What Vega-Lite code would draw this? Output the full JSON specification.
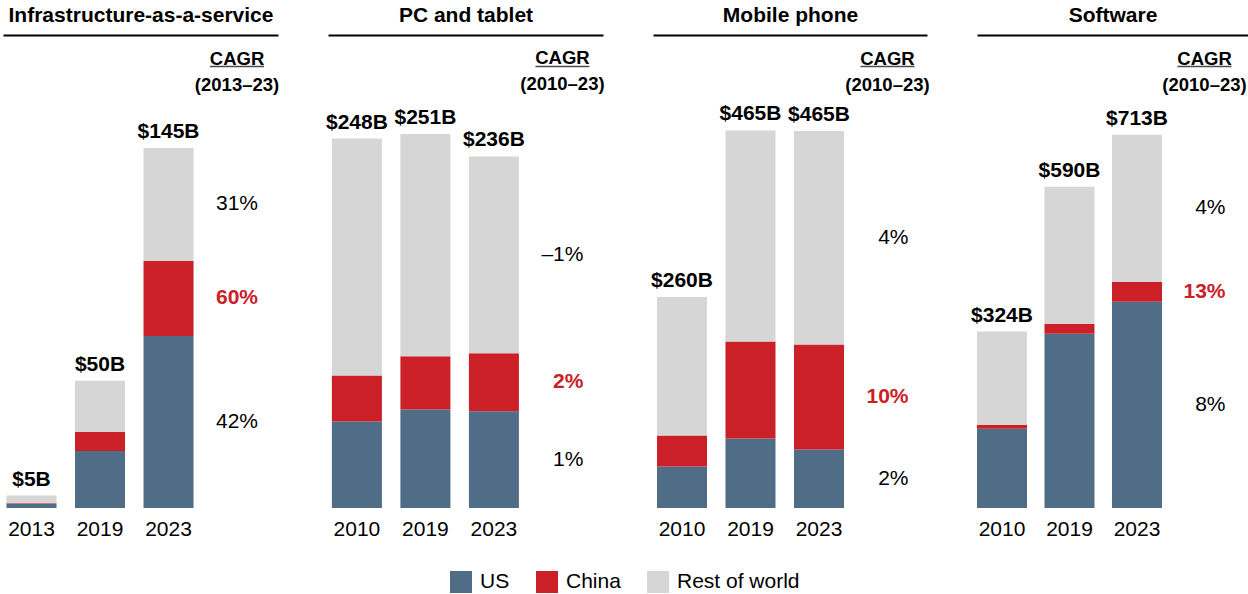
{
  "$schema": "https://vega.github.io/schema/vega-lite/v6.json",
  "padding": {"left": 3, "top": 4, "right": 0, "bottom": 0},
  "bounds": "flush",
  "spacing": 50,
  "datasets": {
    "seg": [
      {"panel": "Infrastructure-as-a-service", "year": "2013", "region": "US", "value": 1.6, "total": 5, "cagr": "42%"},
      {"panel": "Infrastructure-as-a-service", "year": "2013", "region": "China", "value": 0.3, "total": 5, "cagr": "60%"},
      {"panel": "Infrastructure-as-a-service", "year": "2013", "region": "Rest of world", "value": 3.1, "total": 5, "cagr": "31%"},
      {"panel": "Infrastructure-as-a-service", "year": "2019", "region": "US", "value": 23.0, "total": 50, "cagr": "42%"},
      {"panel": "Infrastructure-as-a-service", "year": "2019", "region": "China", "value": 7.6, "total": 50, "cagr": "60%"},
      {"panel": "Infrastructure-as-a-service", "year": "2019", "region": "Rest of world", "value": 20.6, "total": 50, "cagr": "31%"},
      {"panel": "Infrastructure-as-a-service", "year": "2023", "region": "US", "value": 69.3, "total": 145, "cagr": "42%"},
      {"panel": "Infrastructure-as-a-service", "year": "2023", "region": "China", "value": 30.2, "total": 145, "cagr": "60%"},
      {"panel": "Infrastructure-as-a-service", "year": "2023", "region": "Rest of world", "value": 45.5, "total": 145, "cagr": "31%"},
      {"panel": "PC and tablet", "year": "2010", "region": "US", "value": 58.1, "total": 248, "cagr": "1%"},
      {"panel": "PC and tablet", "year": "2010", "region": "China", "value": 30.9, "total": 248, "cagr": "2%"},
      {"panel": "PC and tablet", "year": "2010", "region": "Rest of world", "value": 159.0, "total": 248, "cagr": "–1%"},
      {"panel": "PC and tablet", "year": "2019", "region": "US", "value": 66.2, "total": 251, "cagr": "1%"},
      {"panel": "PC and tablet", "year": "2019", "region": "China", "value": 35.6, "total": 251, "cagr": "2%"},
      {"panel": "PC and tablet", "year": "2019", "region": "Rest of world", "value": 149.2, "total": 251, "cagr": "–1%"},
      {"panel": "PC and tablet", "year": "2023", "region": "US", "value": 64.9, "total": 236, "cagr": "1%"},
      {"panel": "PC and tablet", "year": "2023", "region": "China", "value": 39.0, "total": 236, "cagr": "2%"},
      {"panel": "PC and tablet", "year": "2023", "region": "Rest of world", "value": 132.1, "total": 236, "cagr": "–1%"},
      {"panel": "Mobile phone", "year": "2010", "region": "US", "value": 51.1, "total": 260, "cagr": "2%"},
      {"panel": "Mobile phone", "year": "2010", "region": "China", "value": 38.2, "total": 260, "cagr": "10%"},
      {"panel": "Mobile phone", "year": "2010", "region": "Rest of world", "value": 170.7, "total": 260, "cagr": "4%"},
      {"panel": "Mobile phone", "year": "2019", "region": "US", "value": 85.6, "total": 465, "cagr": "2%"},
      {"panel": "Mobile phone", "year": "2019", "region": "China", "value": 119.5, "total": 465, "cagr": "10%"},
      {"panel": "Mobile phone", "year": "2019", "region": "Rest of world", "value": 259.9, "total": 465, "cagr": "4%"},
      {"panel": "Mobile phone", "year": "2023", "region": "US", "value": 72.1, "total": 465, "cagr": "2%"},
      {"panel": "Mobile phone", "year": "2023", "region": "China", "value": 129.3, "total": 465, "cagr": "10%"},
      {"panel": "Mobile phone", "year": "2023", "region": "Rest of world", "value": 263.0, "total": 465, "cagr": "4%"},
      {"panel": "Software", "year": "2010", "region": "US", "value": 145.6, "total": 324, "cagr": "8%"},
      {"panel": "Software", "year": "2010", "region": "China", "value": 7.3, "total": 324, "cagr": "13%"},
      {"panel": "Software", "year": "2010", "region": "Rest of world", "value": 171.1, "total": 324, "cagr": "4%"},
      {"panel": "Software", "year": "2019", "region": "US", "value": 320.1, "total": 590, "cagr": "8%"},
      {"panel": "Software", "year": "2019", "region": "China", "value": 18.4, "total": 590, "cagr": "13%"},
      {"panel": "Software", "year": "2019", "region": "Rest of world", "value": 251.5, "total": 590, "cagr": "4%"},
      {"panel": "Software", "year": "2023", "region": "US", "value": 378.9, "total": 713, "cagr": "8%"},
      {"panel": "Software", "year": "2023", "region": "China", "value": 36.7, "total": 713, "cagr": "13%"},
      {"panel": "Software", "year": "2023", "region": "Rest of world", "value": 270.0, "total": 713, "cagr": "4%"}
    ]
  },
  "data": {"name": "seg"},
  "hconcat": [
    {
      "width": 275, "height": 473,
      "transform": [
        {"filter": "datum.panel == 'Infrastructure-as-a-service'"},
        {"calculate": "indexof(['US','China','Rest of world'], datum.region)", "as": "ord"}
      ],
      "resolve": {"axis": {"x": "independent"}},
      "layer": [
        {
          "mark": {"type": "bar"},
          "encoding": {
            "x": {"field": "year", "type": "nominal", "scale": {"domain": ["2013", "2019", "2023", "CAGR"], "paddingInner": 0.27, "paddingOuter": 0.142, "align": 0.18}, "axis": {"orient": "bottom", "title": null, "labelAngle": 0, "labelExpr": "datum.value == 'CAGR' ? '' : datum.value", "labelPadding": 10.5, "labelFontSize": 21, "labelColor": "#000", "domain": false, "ticks": false}},
            "y": {"field": "value", "type": "quantitative", "stack": "zero", "scale": {"domain": [0, 190.5]}, "axis": null},
            "color": {"field": "region", "type": "nominal", "title": null, "scale": {"domain": ["US", "China", "Rest of world"], "range": ["#4f6d87", "#cc2029", "#d6d6d6"]}},
            "order": {"field": "ord", "type": "quantitative"}
          }
        },
        {
          "transform": [
            {"aggregate": [{"op": "sum", "field": "value", "as": "sum"}, {"op": "max", "field": "total", "as": "total"}], "groupby": ["year"]},
            {"calculate": "'$' + datum.total + 'B'", "as": "label"}
          ],
          "mark": {"type": "text", "fontSize": 21, "fontWeight": "bold", "baseline": "alphabetic", "dy": -10, "color": "#000"},
          "encoding": {
            "x": {"field": "year", "type": "nominal", "axis": {"orient": "top", "title": "Infrastructure-as-a-service", "labels": false, "ticks": false, "domain": true, "domainColor": "#000", "domainWidth": 2, "titleFontSize": 21, "titleFontWeight": "bold", "titleColor": "#000", "titlePadding": 10}},
            "y": {"field": "sum", "type": "quantitative", "scale": {"domain": [0, 190.5]}, "axis": null},
            "text": {"field": "label"}
          }
        },
        {
          "transform": [
            {"filter": "datum.year == '2023'"},
            {"stack": "value", "groupby": ["year"], "sort": [{"field": "ord", "order": "ascending"}], "as": ["v0", "v1"]},
            {"calculate": "(datum.v0 + datum.v1) / 2", "as": "mid"}
          ],
          "encoding": {
            "x": {"datum": "CAGR", "type": "nominal", "bandPosition": 1, "axis": null},
            "y": {"field": "mid", "type": "quantitative", "scale": {"domain": [0, 190.5]}, "axis": null},
            "text": {"field": "cagr"}
          },
          "layer": [
            {"transform": [{"filter": "datum.region != 'China'"}], "mark": {"type": "text", "fontSize": 21, "align": "right", "baseline": "middle", "dx": -4, "color": "#000"}},
            {"transform": [{"filter": "datum.region == 'China'"}], "mark": {"type": "text", "fontSize": 21, "fontWeight": "bold", "align": "right", "baseline": "middle", "dx": -4, "color": "#cc2029"}}
          ]
        },
        {
          "transform": [{"filter": "datum.year == '2023' && datum.region == 'US'"}],
          "encoding": {
            "x": {"datum": "CAGR", "type": "nominal", "axis": null},
            "y": {"datum": 178.6, "type": "quantitative", "scale": {"domain": [0, 190.5]}, "axis": null}
          },
          "layer": [
            {"mark": {"type": "text", "fontSize": 18.5, "fontWeight": "bold", "baseline": "alphabetic", "lineHeight": 26, "color": "#000", "text": ["CAGR", "(2013–23)"]}},
            {"mark": {"type": "tick", "thickness": 1.5, "size": 54, "color": "#000", "yOffset": 2}}
          ]
        }
      ]
    },
    {
      "width": 275, "height": 473,
      "transform": [
        {"filter": "datum.panel == 'PC and tablet'"},
        {"calculate": "indexof(['US','China','Rest of world'], datum.region)", "as": "ord"}
      ],
      "resolve": {"axis": {"x": "independent"}},
      "layer": [
        {
          "mark": {"type": "bar"},
          "encoding": {
            "x": {"field": "year", "type": "nominal", "scale": {"domain": ["2010", "2019", "2023", "CAGR"], "paddingInner": 0.27, "paddingOuter": 0.142, "align": 0.2}, "axis": {"orient": "bottom", "title": null, "labelAngle": 0, "labelExpr": "datum.value == 'CAGR' ? '' : datum.value", "labelPadding": 10.5, "labelFontSize": 21, "labelColor": "#000", "domain": false, "ticks": false}},
            "y": {"field": "value", "type": "quantitative", "stack": "zero", "scale": {"domain": [0, 317.5]}, "axis": null},
            "color": {"field": "region", "type": "nominal", "title": null, "scale": {"domain": ["US", "China", "Rest of world"], "range": ["#4f6d87", "#cc2029", "#d6d6d6"]}},
            "order": {"field": "ord", "type": "quantitative"}
          }
        },
        {
          "transform": [
            {"aggregate": [{"op": "sum", "field": "value", "as": "sum"}, {"op": "max", "field": "total", "as": "total"}], "groupby": ["year"]},
            {"calculate": "'$' + datum.total + 'B'", "as": "label"}
          ],
          "mark": {"type": "text", "fontSize": 21, "fontWeight": "bold", "baseline": "alphabetic", "dy": -10, "color": "#000"},
          "encoding": {
            "x": {"field": "year", "type": "nominal", "axis": {"orient": "top", "title": "PC and tablet", "labels": false, "ticks": false, "domain": true, "domainColor": "#000", "domainWidth": 2, "titleFontSize": 21, "titleFontWeight": "bold", "titleColor": "#000", "titlePadding": 10}},
            "y": {"field": "sum", "type": "quantitative", "scale": {"domain": [0, 317.5]}, "axis": null},
            "text": {"field": "label"}
          }
        },
        {
          "transform": [
            {"filter": "datum.year == '2023'"},
            {"stack": "value", "groupby": ["year"], "sort": [{"field": "ord", "order": "ascending"}], "as": ["v0", "v1"]},
            {"calculate": "(datum.v0 + datum.v1) / 2", "as": "mid"}
          ],
          "encoding": {
            "x": {"datum": "CAGR", "type": "nominal", "bandPosition": 1, "axis": null},
            "y": {"field": "mid", "type": "quantitative", "scale": {"domain": [0, 317.5]}, "axis": null},
            "text": {"field": "cagr"}
          },
          "layer": [
            {"transform": [{"filter": "datum.region != 'China'"}], "mark": {"type": "text", "fontSize": 21, "align": "right", "baseline": "middle", "dx": -4, "color": "#000"}},
            {"transform": [{"filter": "datum.region == 'China'"}], "mark": {"type": "text", "fontSize": 21, "fontWeight": "bold", "align": "right", "baseline": "middle", "dx": -4, "color": "#cc2029"}}
          ]
        },
        {
          "transform": [{"filter": "datum.year == '2023' && datum.region == 'US'"}],
          "encoding": {
            "x": {"datum": "CAGR", "type": "nominal", "axis": null},
            "y": {"datum": 297.7, "type": "quantitative", "scale": {"domain": [0, 317.5]}, "axis": null}
          },
          "layer": [
            {"mark": {"type": "text", "fontSize": 18.5, "fontWeight": "bold", "baseline": "alphabetic", "lineHeight": 26, "color": "#000", "text": ["CAGR", "(2010–23)"]}},
            {"mark": {"type": "tick", "thickness": 1.5, "size": 54, "color": "#000", "yOffset": 2}}
          ]
        }
      ]
    },
    {
      "width": 274, "height": 473,
      "transform": [
        {"filter": "datum.panel == 'Mobile phone'"},
        {"calculate": "indexof(['US','China','Rest of world'], datum.region)", "as": "ord"}
      ],
      "resolve": {"axis": {"x": "independent"}},
      "layer": [
        {
          "mark": {"type": "bar"},
          "encoding": {
            "x": {"field": "year", "type": "nominal", "scale": {"domain": ["2010", "2019", "2023", "CAGR"], "paddingInner": 0.27, "paddingOuter": 0.135, "align": 0.216}, "axis": {"orient": "bottom", "title": null, "labelAngle": 0, "labelExpr": "datum.value == 'CAGR' ? '' : datum.value", "labelPadding": 10.5, "labelFontSize": 21, "labelColor": "#000", "domain": false, "ticks": false}},
            "y": {"field": "value", "type": "quantitative", "stack": "zero", "scale": {"domain": [0, 582.6]}, "axis": null},
            "color": {"field": "region", "type": "nominal", "title": null, "scale": {"domain": ["US", "China", "Rest of world"], "range": ["#4f6d87", "#cc2029", "#d6d6d6"]}},
            "order": {"field": "ord", "type": "quantitative"}
          }
        },
        {
          "transform": [
            {"aggregate": [{"op": "sum", "field": "value", "as": "sum"}, {"op": "max", "field": "total", "as": "total"}], "groupby": ["year"]},
            {"calculate": "'$' + datum.total + 'B'", "as": "label"}
          ],
          "mark": {"type": "text", "fontSize": 21, "fontWeight": "bold", "baseline": "alphabetic", "dy": -10, "color": "#000"},
          "encoding": {
            "x": {"field": "year", "type": "nominal", "axis": {"orient": "top", "title": "Mobile phone", "labels": false, "ticks": false, "domain": true, "domainColor": "#000", "domainWidth": 2, "titleFontSize": 21, "titleFontWeight": "bold", "titleColor": "#000", "titlePadding": 10}},
            "y": {"field": "sum", "type": "quantitative", "scale": {"domain": [0, 582.6]}, "axis": null},
            "text": {"field": "label"}
          }
        },
        {
          "transform": [
            {"filter": "datum.year == '2023'"},
            {"stack": "value", "groupby": ["year"], "sort": [{"field": "ord", "order": "ascending"}], "as": ["v0", "v1"]},
            {"calculate": "(datum.v0 + datum.v1) / 2", "as": "mid"}
          ],
          "encoding": {
            "x": {"datum": "CAGR", "type": "nominal", "bandPosition": 1, "axis": null},
            "y": {"field": "mid", "type": "quantitative", "scale": {"domain": [0, 582.6]}, "axis": null},
            "text": {"field": "cagr"}
          },
          "layer": [
            {"transform": [{"filter": "datum.region != 'China'"}], "mark": {"type": "text", "fontSize": 21, "align": "right", "baseline": "middle", "dx": -4, "color": "#000"}},
            {"transform": [{"filter": "datum.region == 'China'"}], "mark": {"type": "text", "fontSize": 21, "fontWeight": "bold", "align": "right", "baseline": "middle", "dx": -4, "color": "#cc2029"}}
          ]
        },
        {
          "transform": [{"filter": "datum.year == '2023' && datum.region == 'US'"}],
          "encoding": {
            "x": {"datum": "CAGR", "type": "nominal", "axis": null},
            "y": {"datum": 546.2, "type": "quantitative", "scale": {"domain": [0, 582.6]}, "axis": null}
          },
          "layer": [
            {"mark": {"type": "text", "fontSize": 18.5, "fontWeight": "bold", "baseline": "alphabetic", "lineHeight": 26, "color": "#000", "text": ["CAGR", "(2010–23)"]}},
            {"mark": {"type": "tick", "thickness": 1.5, "size": 54, "color": "#000", "yOffset": 2}}
          ]
        }
      ]
    },
    {
      "width": 271, "height": 473,
      "transform": [
        {"filter": "datum.panel == 'Software'"},
        {"calculate": "indexof(['US','China','Rest of world'], datum.region)", "as": "ord"}
      ],
      "resolve": {"axis": {"x": "independent"}},
      "layer": [
        {
          "mark": {"type": "bar"},
          "encoding": {
            "x": {"field": "year", "type": "nominal", "scale": {"domain": ["2010", "2019", "2023", "CAGR"], "paddingInner": 0.2593, "paddingOuter": 0.137, "align": 0}, "axis": {"orient": "bottom", "title": null, "labelAngle": 0, "labelExpr": "datum.value == 'CAGR' ? '' : datum.value", "labelPadding": 10.5, "labelFontSize": 21, "labelColor": "#000", "domain": false, "ticks": false}},
            "y": {"field": "value", "type": "quantitative", "stack": "zero", "scale": {"domain": [0, 868.7]}, "axis": null},
            "color": {"field": "region", "type": "nominal", "title": null, "scale": {"domain": ["US", "China", "Rest of world"], "range": ["#4f6d87", "#cc2029", "#d6d6d6"]}},
            "order": {"field": "ord", "type": "quantitative"}
          }
        },
        {
          "transform": [
            {"aggregate": [{"op": "sum", "field": "value", "as": "sum"}, {"op": "max", "field": "total", "as": "total"}], "groupby": ["year"]},
            {"calculate": "'$' + datum.total + 'B'", "as": "label"}
          ],
          "mark": {"type": "text", "fontSize": 21, "fontWeight": "bold", "baseline": "alphabetic", "dy": -10, "color": "#000"},
          "encoding": {
            "x": {"field": "year", "type": "nominal", "axis": {"orient": "top", "title": "Software", "labels": false, "ticks": false, "domain": true, "domainColor": "#000", "domainWidth": 2, "titleFontSize": 21, "titleFontWeight": "bold", "titleColor": "#000", "titlePadding": 10}},
            "y": {"field": "sum", "type": "quantitative", "scale": {"domain": [0, 868.7]}, "axis": null},
            "text": {"field": "label"}
          }
        },
        {
          "transform": [
            {"filter": "datum.year == '2023'"},
            {"stack": "value", "groupby": ["year"], "sort": [{"field": "ord", "order": "ascending"}], "as": ["v0", "v1"]},
            {"calculate": "(datum.v0 + datum.v1) / 2", "as": "mid"}
          ],
          "encoding": {
            "x": {"datum": "CAGR", "type": "nominal", "bandPosition": 1, "axis": null},
            "y": {"field": "mid", "type": "quantitative", "scale": {"domain": [0, 868.7]}, "axis": null},
            "text": {"field": "cagr"}
          },
          "layer": [
            {"transform": [{"filter": "datum.region != 'China'"}], "mark": {"type": "text", "fontSize": 21, "align": "right", "baseline": "middle", "dx": -4, "color": "#000"}},
            {"transform": [{"filter": "datum.region == 'China'"}], "mark": {"type": "text", "fontSize": 21, "fontWeight": "bold", "align": "right", "baseline": "middle", "dx": -4, "color": "#cc2029"}}
          ]
        },
        {
          "transform": [{"filter": "datum.year == '2023' && datum.region == 'US'"}],
          "encoding": {
            "x": {"datum": "CAGR", "type": "nominal", "axis": null},
            "y": {"datum": 814.5, "type": "quantitative", "scale": {"domain": [0, 868.7]}, "axis": null}
          },
          "layer": [
            {"mark": {"type": "text", "fontSize": 18.5, "fontWeight": "bold", "baseline": "alphabetic", "lineHeight": 26, "color": "#000", "text": ["CAGR", "(2010–23)"]}},
            {"mark": {"type": "tick", "thickness": 1.5, "size": 54, "color": "#000", "yOffset": 2}}
          ]
        }
      ]
    }
  ],
  "config": {
    "font": "Liberation Sans",
    "view": {"stroke": null},
    "axis": {"grid": false, "labelFont": "Liberation Sans", "titleFont": "Liberation Sans"},
    "legend": {
      "orient": "none", "legendX": 447, "legendY": 536, "direction": "horizontal",
      "symbolType": "square", "symbolSize": 484, "symbolStrokeWidth": 0, "symbolOpacity": 1,
      "labelFontSize": 21, "labelColor": "#000", "labelFont": "Liberation Sans", "labelOffset": 8,
      "columnPadding": 26, "padding": 0
    }
  }
}
